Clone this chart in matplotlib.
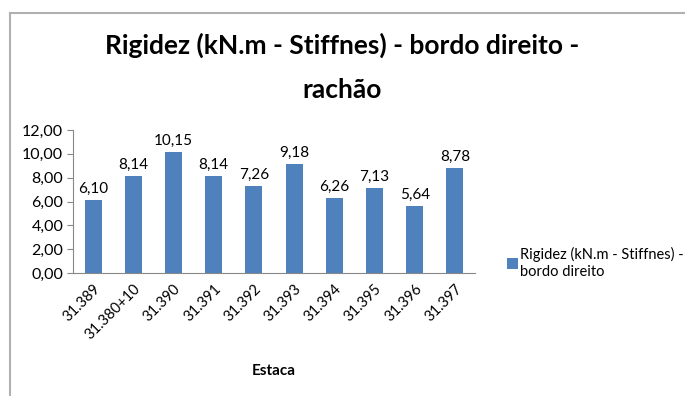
import matplotlib.pyplot as plt
from matplotlib.lines import Line2D

plt.rcParams['font.family'] = ['Lato', 'DejaVu Sans']

estacas = ['31.389', '31.380+10', '31.390', '31.391', '31.392',
           '31.393', '31.394', '31.395', '31.396', '31.397']
rigidez = [6.10, 8.14, 10.15, 8.14, 7.26, 9.18, 6.26, 7.13, 5.64, 8.78]
serie = 'Rigidez (kN.m - Stiffnes) -\nbordo direito'

fig = plt.figure(figsize=(6.85, 3.96), dpi=100)

# moldura do grafico
fig.add_artist(Line2D([10/685, 1], [1 - 13/396, 1 - 13/396], color='#b0b0b0', lw=1.5))
fig.add_artist(Line2D([10/685, 10/685], [0, 1 - 13/396], color='#b0b0b0', lw=1.5))

ax = fig.add_axes([73/685, 1 - 273/396, 402/685, 143/396])
x = range(len(estacas))
bars = ax.bar(x, rigidez, width=0.42, color='#4f81bd', label=serie)
for xi, v in zip(x, rigidez):
    ax.text(xi, v + 0.35, f'{v:.2f}'.replace('.', ','), ha='center', va='bottom', fontsize=11)

ax.set_xlim(-0.5, len(estacas) - 0.5)
ax.set_ylim(0, 12)
ax.set_yticks(range(0, 13, 2))
ax.set_yticklabels([f'{t:.2f}'.replace('.', ',') for t in range(0, 13, 2)], fontsize=11.5)
ax.set_xticks(list(x))
ax.set_xticklabels(estacas, rotation=45, ha='right', rotation_mode='anchor', fontsize=10.5)
ax.tick_params(axis='x', length=0, pad=6)
ax.tick_params(axis='y', length=4, color='#888888', pad=3)
for s in ['top', 'right']:
    ax.spines[s].set_visible(False)
for s in ['left', 'bottom']:
    ax.spines[s].set_color('#888888')
ax.set_xlabel('Estaca', fontsize=11, fontweight='bold', labelpad=16)

fig.text(0.5, 1 - 45/396, 'Rigidez (kN.m - Stiffnes) - bordo direito -',
         ha='center', va='center', fontsize=19, fontweight='bold')
fig.text(0.5, 1 - 90/396, 'rachão', ha='center', va='center', fontsize=19, fontweight='bold')

fig.legend(handles=[bars], labels=[serie], loc='center left',
           bbox_to_anchor=(494/685, 1 - 263/396), frameon=False, fontsize=10.5,
           handlelength=0.75, handleheight=0.75, handletextpad=0.15,
           labelspacing=0.1)

fig.savefig('out.png', dpi=100)
